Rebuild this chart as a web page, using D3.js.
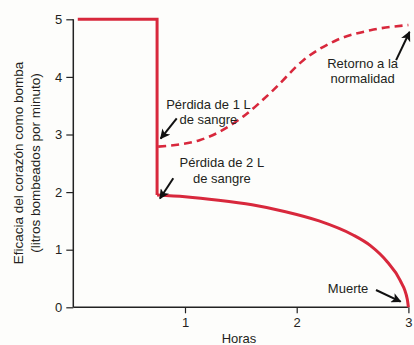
<!DOCTYPE html>
<html><head><meta charset="utf-8">
<script src="https://cdn.jsdelivr.net/npm/d3@7"></script>
<style>
html,body{margin:0;padding:0;background:#fdfdfb;}
svg{display:block;}
text{font-family:"Liberation Sans",Arial,sans-serif;fill:#231f20;}
</style></head>
<body>
<svg id="c" width="414" height="345"></svg>
<script>
// ---- data ----
const xTicks = [1, 2, 3];
const yTicks = [0, 1, 2, 3, 4, 5];
// solid curve: 2 L blood loss -> death
const hoursSolid = [0.04, 0.75, 0.75, 1.0, 1.3, 1.6, 1.9, 2.2, 2.5, 2.66, 2.81, 2.925, 2.99, 3.0];
const pumpSolid  = [5.0, 5.0, 1.95, 1.92, 1.86, 1.78, 1.66, 1.50, 1.26, 1.07, 0.79, 0.47, 0.14, 0.0];
// dashed curve: 1 L blood loss -> recovery
const hoursDashed = [0.76, 1.13, 1.52, 1.79, 2.06, 2.36, 2.66, 3.0];
const pumpDashed  = [2.79, 2.90, 3.31, 3.77, 4.29, 4.64, 4.81, 4.90];
// annotations (text lines, text anchor in data units, arrow tail -> head in data units)
const annotations = [
  {lines:["Pérdida de 1 L","de sangre"], at:[1.21, 3.45], from:[0.926, 3.28], to:[0.782, 2.93]},
  {lines:["Pérdida de 2 L","de sangre"], at:[1.33, 2.43], from:[0.895, 2.24], to:[0.776, 1.89]},
  {lines:["Retorno a la","normalidad"], at:[2.59, 4.16], from:[2.89, 4.29], to:[3.01, 4.78]},
  {lines:["Muerte"], at:[2.46, 0.24], from:[2.71, 0.30], to:[2.93, 0.10]}
];
const yLabel = ["Eficacia del corazón como bomba", "(litros bombeados por minuto)"];
const xLabel = "Horas";

// ---- chart ----
const svg = d3.select("#c");
const x = d3.scaleLinear().domain([0, 3]).range([73.3, 408.4]);
const y = d3.scaleLinear().domain([0, 5]).range([307.3, 19.3]);
const red = "#d8283c";

svg.append("defs").append("marker")
  .attr("id","ah").attr("viewBox","0 0 10 10").attr("refX",9).attr("refY",5)
  .attr("markerWidth",12).attr("markerHeight",10).attr("markerUnits","userSpaceOnUse")
  .attr("orient","auto")
  .append("path").attr("d","M0,0 L10,5 L0,10 L2.5,5 Z").attr("fill","#111");

// axes
const gx = svg.append("g").attr("transform",`translate(0,${y(0)})`)
  .call(d3.axisBottom(x).tickValues(xTicks).tickSize(6).tickPadding(4).tickFormat(d3.format("d")));
gx.select(".domain").attr("d",`M${x(0)},0H${x(3)}`).attr("stroke","#222").attr("stroke-width",1.5);
gx.selectAll(".tick line").attr("stroke","#222").attr("stroke-width",1.2);
gx.selectAll(".tick text").attr("font-size",13).attr("font-family","Liberation Sans, Arial, sans-serif").attr("fill","#231f20");

const gy = svg.append("g").attr("transform",`translate(${x(0)},0)`)
  .call(d3.axisLeft(y).tickValues(yTicks).tickSize(7).tickPadding(4).tickFormat(d3.format("d")));
gy.select(".domain").attr("d",`M0,${y(0)}V${y(5)}`).attr("stroke","#222").attr("stroke-width",1.5);
gy.selectAll(".tick line").attr("stroke","#222").attr("stroke-width",1.2);
gy.selectAll(".tick text").attr("font-size",13).attr("font-family","Liberation Sans, Arial, sans-serif").attr("fill","#231f20");

// curves
const solidPts = hoursSolid.map((h,i)=>[h,pumpSolid[i]]);
const dashedPts = hoursDashed.map((h,i)=>[h,pumpDashed[i]]);
const lineLin = d3.line().x(d=>x(d[0])).y(d=>y(d[1]));
const lineSmooth = d3.line().x(d=>x(d[0])).y(d=>y(d[1])).curve(d3.curveMonotoneX);
svg.append("path").attr("d", lineLin(solidPts.slice(0,3)))
  .attr("fill","none").attr("stroke",red).attr("stroke-width",3);
svg.append("path").attr("d", lineSmooth(solidPts.slice(2)))
  .attr("fill","none").attr("stroke",red).attr("stroke-width",3);
svg.append("path").attr("d", lineSmooth(dashedPts))
  .attr("fill","none").attr("stroke",red).attr("stroke-width",2.6).attr("stroke-dasharray","8,5");

// annotations
annotations.forEach(a=>{
  const t = svg.append("text").attr("text-anchor","middle").attr("font-size",13)
    .attr("x",x(a.at[0])).attr("y",y(a.at[1]));
  a.lines.forEach((l,i)=>t.append("tspan").attr("x",x(a.at[0])).attr("dy",i?15.5:0).text(l));
  svg.append("line").attr("x1",x(a.from[0])).attr("y1",y(a.from[1]))
    .attr("x2",x(a.to[0])).attr("y2",y(a.to[1]))
    .attr("stroke","#111").attr("stroke-width",2).attr("marker-end","url(#ah)");
});

// axis labels
svg.append("text").attr("text-anchor","middle").attr("font-size",13).attr("x",239).attr("y",343).text(xLabel);
yLabel.forEach((l,i)=>{
  svg.append("text").attr("text-anchor","middle").attr("font-size",13.5)
    .attr("transform",`translate(${23+i*16.5},${163}) rotate(-90)`).text(l);
});
</script>
</body></html>
